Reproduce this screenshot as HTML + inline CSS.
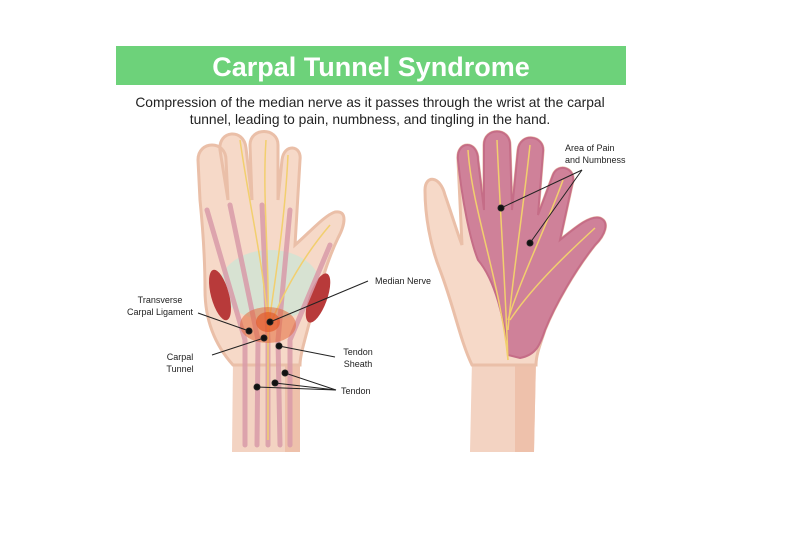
<!DOCTYPE html>
<html><head><style>
body{margin:0;background:#fff;width:800px;height:533px;overflow:hidden;font-family:"Liberation Sans",sans-serif}
</style></head><body>
<svg width="800" height="533" viewBox="0 0 800 533" xmlns="http://www.w3.org/2000/svg">
<rect x="116" y="46" width="510" height="39" fill="#6dd27a"/>
<text x="371" y="76" text-anchor="middle" font-size="27" font-weight="bold" fill="#fff" font-family="Liberation Sans">Carpal Tunnel Syndrome</text>
<text x="370" y="107" text-anchor="middle" font-size="13.8" fill="#222">Compression of the median nerve as it passes through the wrist at the carpal</text>
<text x="370" y="124" text-anchor="middle" font-size="13.8" fill="#222">tunnel, leading to pain, numbness, and tingling in the hand.</text>

<!-- LEFT HAND -->
<g>
<path d="M233,360 L232,452 L300,452 L300,360 Z" fill="#f3d3c2"/>
<path d="M285,360 L285,452 L300,452 L300,360 Z" fill="#eec1ab"/>
<path d="M233,365 C215,345 205,320 205,290 C205,260 203,230 200,200 L198,160 C198,140 226,140 226,160 L228,200 L220,150 C218,130 244,128 246,148 L252,200 L250,145 C250,127 278,127 278,145 L278,200 L282,160 C284,143 302,145 300,160 L295,245 C310,232 325,215 335,212 C348,210 345,225 338,238 C325,265 320,290 310,320 C305,340 300,355 300,365 Z" fill="#f6d9c8" stroke="#eabfa8" stroke-width="3"/>
<ellipse cx="270" cy="285" rx="50" ry="35" fill="#cfe3d4" opacity="0.8"/>
<ellipse cx="220" cy="295" rx="9" ry="26" fill="#b83a3a" transform="rotate(-15 220 295)"/>
<ellipse cx="318" cy="298" rx="9" ry="26" fill="#b83a3a" transform="rotate(20 318 298)"/>
<g stroke="#d99ba9" stroke-width="5" stroke-linecap="round" fill="none" opacity="0.85">
<path d="M207,210 L245,340 L245,445"/><path d="M230,205 L258,340 L257,445"/><path d="M262,205 L268,340 L268,445"/><path d="M290,210 L278,340 L280,445"/><path d="M330,245 L290,340 L290,445"/>
</g>
<g stroke="#f2cf6e" stroke-width="1.5" fill="none">
<path d="M266,140 C262,200 270,260 268,340 L268,440"/><path d="M288,155 C285,220 275,280 268,330"/><path d="M240,140 C250,210 265,270 268,330"/><path d="M330,225 C300,260 280,300 268,330"/>
</g>
<ellipse cx="268" cy="325" rx="28" ry="18" fill="#e46a3a" opacity="0.55"/>
<ellipse cx="268" cy="322" rx="12" ry="10" fill="#e2511f" opacity="0.6"/>
</g>

<!-- RIGHT HAND -->
<g>
<path d="M472,360 L470,452 L534,452 L536,360 Z" fill="#f3d3c2"/>
<path d="M515,360 L515,452 L534,452 L536,360 Z" fill="#eec1ab"/>
<path d="M472,365 C460,340 455,310 440,270 C430,245 425,215 425,190 C425,175 440,175 445,195 C452,215 458,235 462,245 L458,160 C456,140 478,140 478,160 L484,210 L484,145 C484,127 510,127 510,145 L512,210 L518,150 C520,132 545,135 543,152 L538,215 L553,175 C558,162 578,168 572,185 L560,240 C575,228 590,215 600,218 C610,222 605,235 595,245 C575,270 555,305 545,330 C540,345 536,355 536,365 Z" fill="#f6d9c8" stroke="#eabfa8" stroke-width="3"/>
<path d="M458,160 C456,140 478,140 478,160 L484,210 L484,145 C484,127 510,127 510,145 L512,210 L518,150 C520,132 545,135 543,152 L538,215 L553,175 C558,162 578,168 572,185 L560,240 C575,228 590,215 600,218 C610,222 605,235 595,245 C575,270 555,305 545,330 C540,345 536,355 520,358 L508,355 C505,320 495,280 478,260 C470,240 462,200 458,160 Z" fill="#cf8199" stroke="#c56d87" stroke-width="2"/>
<g stroke="#f2cf6e" stroke-width="1.5" fill="none">
<path d="M468,150 C472,210 500,280 508,360"/><path d="M497,140 C500,210 505,280 508,360"/><path d="M530,145 C522,220 512,280 508,330"/><path d="M563,180 C545,230 520,280 508,320"/><path d="M595,228 C560,260 530,290 510,320"/>
</g>
</g>

<g stroke="#222" stroke-width="1" fill="#111">
<line x1="368" y1="281" x2="270" y2="322"/><circle cx="270" cy="322" r="3"/>
<line x1="198" y1="313" x2="249" y2="331"/><circle cx="249" cy="331" r="3"/>
<line x1="212" y1="355" x2="264" y2="338"/><circle cx="264" cy="338" r="3"/>
<line x1="335" y1="357" x2="279" y2="346"/><circle cx="279" cy="346" r="3"/>
<line x1="336" y1="390" x2="285" y2="373"/><circle cx="285" cy="373" r="3"/>
<line x1="336" y1="390" x2="275" y2="383"/><circle cx="275" cy="383" r="3"/>
<line x1="336" y1="390" x2="257" y2="387"/><circle cx="257" cy="387" r="3"/>
<line x1="582" y1="170" x2="501" y2="208"/><circle cx="501" cy="208" r="3"/>
<line x1="582" y1="170" x2="530" y2="243"/><circle cx="530" cy="243" r="3"/>
</g>
<g font-size="9" fill="#222" font-family="Liberation Sans">
<text x="375" y="284">Median Nerve</text>
<text x="160" y="303" text-anchor="middle">Transverse</text><text x="160" y="315" text-anchor="middle">Carpal Ligament</text>
<text x="180" y="360" text-anchor="middle">Carpal</text><text x="180" y="372" text-anchor="middle">Tunnel</text>
<text x="358" y="355" text-anchor="middle">Tendon</text><text x="358" y="367" text-anchor="middle">Sheath</text>
<text x="341" y="394">Tendon</text>
<text x="565" y="151">Area of Pain</text><text x="565" y="163">and Numbness</text>
</g>
</svg>
</body></html>
